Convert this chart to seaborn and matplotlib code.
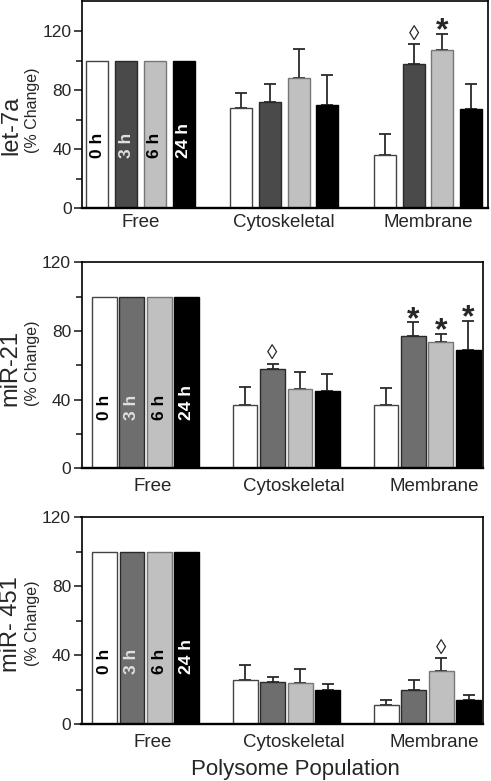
import numpy as np
import pandas as pd
import matplotlib
matplotlib.use('Agg')
import matplotlib.pyplot as plt
import seaborn as sns

# categories
groups = ['Free', 'Cytoskeletal', 'Membrane']
times = ['0 h', '3 h', '6 h', '24 h']

# rows = time point (0 h, 3 h, 6 h, 24 h), columns = groups (Free, Cytoskeletal, Membrane)
let7a_mean = [[100, 68, 36], [100, 72, 98], [100, 88, 107], [100, 70, 67]]
let7a_err = [[0, 10, 14], [0, 12, 13], [0, 20, 11], [0, 20, 17]]
mir21_mean = [[100, 37, 37], [100, 58, 77], [100, 46, 73.5], [100, 45, 69]]
mir21_err = [[0, 10.5, 10], [0, 3, 8], [0, 10, 5], [0, 10, 17]]
mir451_mean = [[100, 25.5, 10.8], [100, 24.5, 20], [100, 24, 31], [100, 20, 14]]
mir451_err = [[0, 8.7, 3.3], [0, 3, 5.6], [0, 7.7, 7.2], [0, 3, 2.8]]

# significance marks: (time index, group index, symbol)
let7a_marks = [(1, 2, '◊'), (2, 2, '*')]
mir21_marks = [(1, 1, '◊'), (1, 2, '*'), (2, 2, '*'), (3, 2, '*')]
mir451_marks = [(2, 2, '◊')]

sns.set_style('ticks')
plt.rcParams['font.family'] = ['Liberation Sans', 'DejaVu Sans']

edge_colors = ['#444444', '#2a2a2a', '#777777', '#000000']
text_colors = ['black', '#e0e0e0', 'black', 'white']
label_center = {'let-7a': (0.40, 0.476), 'miR-21': (0.485, 0.51), 'miR- 451': (0.483, 0.488)}


def draw_panel(ax, mean, err, marks, name, ymax, xlim, width, gap, dark, label_y, xpad, xshift):
    df = pd.DataFrame({
        'group': np.tile(groups, len(times)),
        'time': np.repeat(times, len(groups)),
        'value': np.ravel(mean),
    })
    pal = ['#ffffff', dark, '#c0c0c0', '#000000']
    sns.barplot(data=df, x='group', y='value', hue='time', order=groups,
                hue_order=times, palette=pal, saturation=1, errorbar=None,
                width=width, gap=gap, legend=False, ax=ax, zorder=2)
    bar_conts = list(ax.containers)

    for i, cont in enumerate(bar_conts):
        for bar in cont:
            bar.set_edgecolor(edge_colors[i])
            bar.set_linewidth(1.0)
        xs = np.array([b.get_x() + b.get_width() / 2 for b in cont])
        hs = np.array([b.get_height() for b in cont])
        e = np.array(err[i], dtype=float)
        m = e > 0
        ax.errorbar(xs[m], hs[m], yerr=[np.zeros(m.sum()), e[m]], fmt='none',
                    ecolor='#2a2a2a', elinewidth=1.3, capsize=4.5, capthick=1.3, zorder=1)
        # time label inside the Free bar
        fb = cont[0]
        ax.text(fb.get_x() + fb.get_width() / 2, label_y, times[i], rotation=90,
                ha='center', va='bottom', fontsize=12.5, fontweight='bold',
                color=text_colors[i], zorder=3)

    for ti, gi, sym in marks:
        bar = bar_conts[ti][gi]
        x = bar.get_x() + bar.get_width() / 2
        top = bar.get_height() + err[ti][gi]
        if sym == '*':
            ax.annotate(sym, (x, top), xytext=(0, -4), textcoords='offset points',
                        ha='center', va='baseline', fontsize=23, fontweight='bold')
        else:
            ax.annotate(sym, (x, top), xytext=(0, 3), textcoords='offset points',
                        ha='center', va='baseline', fontsize=15)

    ax.set_ylim(0, ymax)
    ax.set_xlim(*xlim)
    ax.set_yticks([0, 40, 80, 120])
    ax.set_yticks([20, 60, 100], minor=True)
    ax.set_xticks([k + xshift for k in range(3)], groups)
    ax.set_xlabel('')
    ax.set_ylabel('')
    ax.tick_params(axis='y', which='major', direction='out', length=6, width=1.2,
                   labelsize=12.5, pad=1.5)
    ax.tick_params(axis='y', which='minor', direction='out', length=4, width=1.2)
    ax.tick_params(axis='x', length=0, labelsize=13.5, pad=xpad)
    for side in ['top', 'right', 'left']:
        ax.spines[side].set_visible(True)
        ax.spines[side].set_linewidth(1.2)
        ax.spines[side].set_color('black')
    ax.spines['bottom'].set_linewidth(1.7)
    ax.spines['bottom'].set_color('black')

    ax.text(-0.176, label_center[name][0], name, transform=ax.transAxes, rotation=90,
            ha='center', va='center', fontsize=17)
    ax.text(-0.123, label_center[name][1], '(% Change)', transform=ax.transAxes,
            rotation=90, ha='center', va='center', fontsize=11.5)


fig = plt.figure(figsize=(4.91, 7.81), dpi=100)
fig.patch.set_facecolor('white')

ax1 = fig.add_axes([82.3 / 491, 1 - 208.3 / 781, 405.7 / 491, 206.8 / 781])
ax2 = fig.add_axes([81.5 / 491, 1 - 468.3 / 781, 401 / 491, 206 / 781])
ax3 = fig.add_axes([81.5 / 491, 1 - 724 / 781, 401.5 / 491, 206.7 / 781])

draw_panel(ax1, let7a_mean, let7a_err, let7a_marks, 'let-7a', 140, (-0.405, 2.417),
           0.8, 0.23, '#4a4a4a', 34, 4, 0.0)
draw_panel(ax2, mir21_mean, mir21_err, mir21_marks, 'miR-21', 120, (-0.455, 2.394),
           0.78, 0.1, '#6e6e6e', 28, 7, 0.05)
draw_panel(ax3, mir451_mean, mir451_err, mir451_marks, 'miR- 451', 120, (-0.455, 2.394),
           0.78, 0.1, '#6e6e6e', 29, 7, 0.05)

fig.text(295 / 491, 1 - 770 / 781, 'Polysome Population', ha='center', va='center',
         fontsize=16)

fig.savefig('out.png', dpi=100, facecolor='white')
